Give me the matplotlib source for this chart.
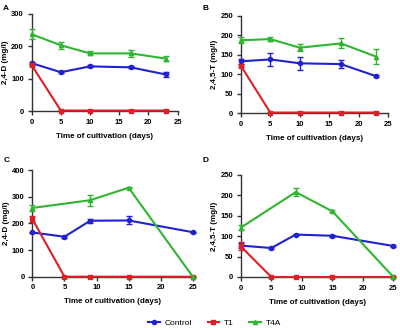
import matplotlib.pyplot as plt
from matplotlib.lines import Line2D

plt.rcParams["font.family"] = ["Liberation Sans", "DejaVu Sans"]
plt.rcParams["font.weight"] = "bold"

blue = "#2121cf"
red = "#dc2027"
green = "#2fb52f"

# Panel A: 2,4-D
days_a = [0, 5, 10, 17, 23]
ctrl_a = [148, 120, 138, 135, 113]
ctrl_a_err = [4, 3, 3, 3, 7]
t1_a = [142, 2, 2, 2, 2]
t1_a_err = [3, 1, 1, 1, 1]
t4a_a = [237, 203, 178, 178, 162]
t4a_a_err = [15, 10, 6, 10, 8]

# Panel B: 2,4,5-T
days_b = [0, 5, 10, 17, 23]
ctrl_b = [133, 138, 128, 126, 95]
ctrl_b_err = [6, 17, 17, 10, 2]
t1_b = [122, 2, 2, 2, 2]
t1_b_err = [3, 1, 1, 1, 1]
t4a_b = [187, 190, 168, 179, 145]
t4a_b_err = [8, 5, 9, 13, 20]

# Panel C: 2,4-D
days_c = [0, 5, 9, 15, 25]
ctrl_c = [166, 150, 210, 211, 167]
ctrl_c_err = [3, 3, 8, 15, 2]
t1_c = [216, 0, 0, 0, 0]
t1_c_err = [12, 0, 0, 0, 0]
t4a_c_days = [0, 9, 15, 25]
t4a_c = [258, 287, 334, 0]
t4a_c_err = [12, 20, 2, 0]

# Panel D: 2,4,5-T
days_d = [0, 5, 9, 15, 25]
ctrl_d = [77, 71, 104, 101, 76]
ctrl_d_err = [7, 2, 2, 2, 2]
t1_d = [75, 0, 0, 0, 0]
t1_d_err = [10, 0, 0, 0, 0]
t4a_d_days = [0, 9, 15, 25]
t4a_d = [121, 208, 161, 0]
t4a_d_err = [7, 10, 2, 0]

panels = [
    ("A", [0.079, 0.661, 0.365, 0.297], 300, 100, "2,4-D (mg/l)", 0.008, 0.985,
     [(days_a, ctrl_a, ctrl_a_err), (days_a, t1_a, t1_a_err), (days_a, t4a_a, t4a_a_err)]),
    ("B", [0.602, 0.6546, 0.368, 0.2976], 250, 50, "2,4,5-T (mg/l)", 0.507, 0.985,
     [(days_b, ctrl_b, ctrl_b_err), (days_b, t1_b, t1_b_err), (days_b, t4a_b, t4a_b_err)]),
    ("C", [0.081, 0.1564, 0.401, 0.325], 400, 100, "2,4-D (mg/l)", 0.008, 0.52,
     [(days_c, ctrl_c, ctrl_c_err), (days_c, t1_c, t1_c_err), (t4a_c_days, t4a_c, t4a_c_err)]),
    ("D", [0.602, 0.1555, 0.3815, 0.311], 250, 50, "2,4,5-T (mg/l)", 0.507, 0.52,
     [(days_d, ctrl_d, ctrl_d_err), (days_d, t1_d, t1_d_err), (t4a_d_days, t4a_d, t4a_d_err)]),
]

styles = [(blue, "o"), (red, "s"), (green, "^")]

fig = plt.figure(figsize=(4, 3.28), dpi=100)
for letter, pos, ymax, ystep, ylabel, lx, ly, series in panels:
    ax = fig.add_axes(pos)
    for (x, y, e), (c, m) in zip(series, styles):
        ax.errorbar(x, y, yerr=e, color=c, marker=m, markersize=3, lw=1.5,
                    elinewidth=1, capsize=2, capthick=1, clip_on=False, zorder=3)
    ax.set_xlim(0, 25)
    ax.set_ylim(0, ymax)
    ax.set_xticks(range(0, 26, 5))
    ax.set_yticks(range(0, ymax + 1, ystep))
    ax.spines["top"].set_visible(False)
    ax.spines["right"].set_visible(False)
    for s in ("left", "bottom"):
        ax.spines[s].set_linewidth(1)
        ax.spines[s].set_color("#333333")
    ax.tick_params(labelsize=5.5, length=3, width=1, pad=2.5, color="#333333")
    for lab in ax.get_xticklabels() + ax.get_yticklabels():
        lab.set_fontweight("bold")
    ax.set_xlabel("Time of cultivation (days)", fontsize=5.8, fontweight="bold", labelpad=5)
    ax.set_ylabel(ylabel, fontsize=5.8, fontweight="bold", labelpad=1.5)
    fig.text(lx, ly, letter, fontsize=6, fontweight="bold", va="top")

handles = [Line2D([], [], color=c, marker=m, markersize=3, lw=1.5) for c, m in styles]
fig.legend(handles, ["Control", "T1", "T4A"], loc="center", bbox_to_anchor=(0.537, 0.016),
           ncol=3, frameon=False, handlelength=1.4, columnspacing=1.8,
           handletextpad=0.6, prop={"weight": "normal", "size": 6})

fig.savefig("out.png", dpi=100)
